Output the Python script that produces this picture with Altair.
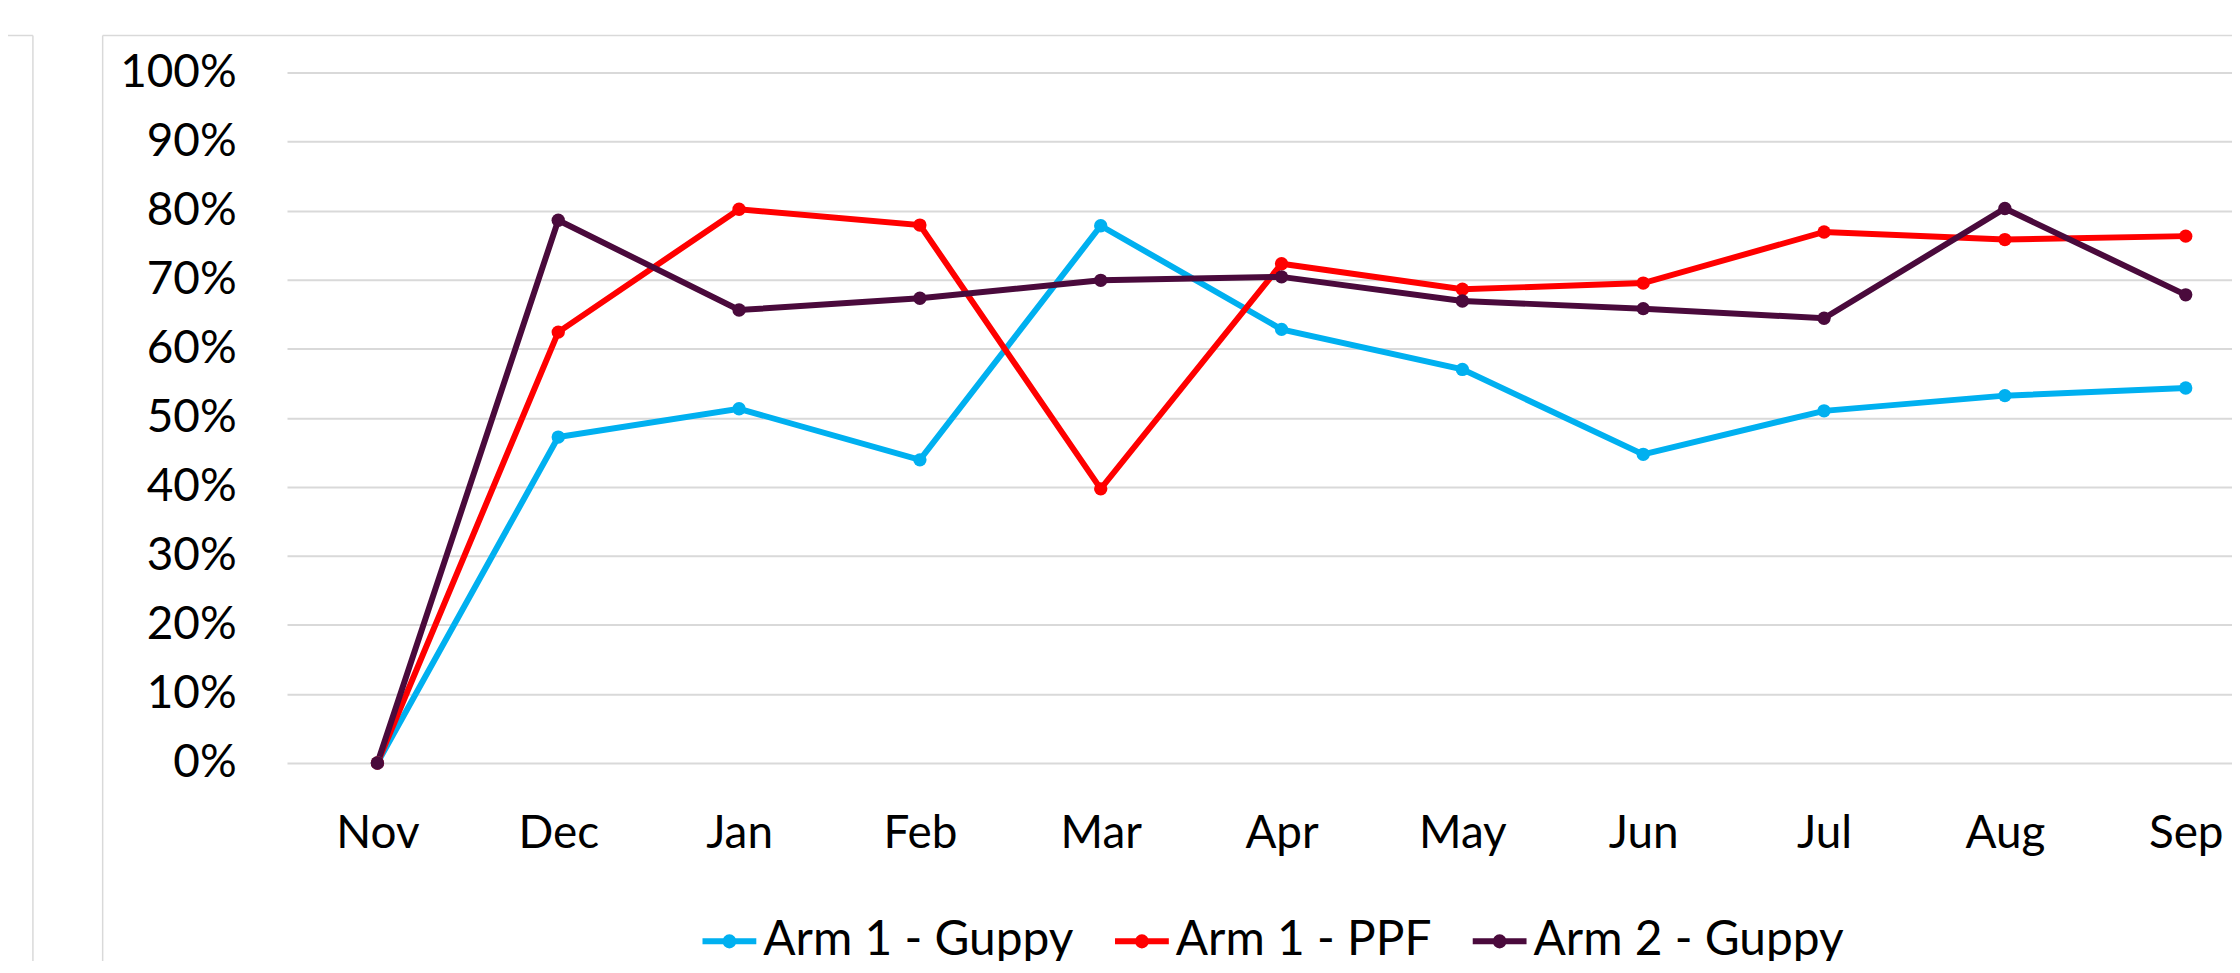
import altair as alt
import pandas as pd

months = ["Nov", "Dec", "Jan", "Feb", "Mar", "Apr", "May", "Jun", "Jul", "Aug", "Sep"]
series_names = ["Arm 1 - Guppy", "Arm 1 - PPF", "Arm 2 - Guppy"]
series_colors = ["#00B0F0", "#FF0000", "#4A0A3C"]

arm1_guppy = [0.0, 0.472, 0.513, 0.439, 0.778, 0.628, 0.570, 0.447, 0.510, 0.532, 0.543]
arm1_ppf = [0.0, 0.624, 0.802, 0.779, 0.397, 0.723, 0.686, 0.695, 0.769, 0.758, 0.763]
arm2_guppy = [0.0, 0.786, 0.656, 0.673, 0.699, 0.704, 0.669, 0.658, 0.644, 0.803, 0.678]

y_ticks = [i / 10 for i in range(11)]

rows = []
for name, vals in zip(series_names, [arm1_guppy, arm1_ppf, arm2_guppy]):
    for i, (m, v) in enumerate(zip(months, vals)):
        rows.append({"series": name, "month": m, "idx": i, "value": v})
df = pd.DataFrame(rows)

W, H = 1952, 693
FONT = "Lato"
GRID = "#d9d9d9"

label_expr = "[" + ",".join("'" + m + "'" for m in months) + "][datum.value]"

x_enc = alt.X(
    "idx:Q",
    scale=alt.Scale(domain=[-0.5, 10.256], nice=False, zero=False),
    axis=alt.Axis(
        values=list(range(len(months))),
        labelExpr=label_expr,
        grid=False, domain=False, ticks=False, tickSize=0,
        labelPadding=49, labelFontSize=46, labelFont=FONT, labelColor="black",
        labelBaseline="top", labelFlush=False, title=None,
    ),
)
y_enc = alt.Y(
    "value:Q",
    scale=alt.Scale(domain=[0, 1], nice=False),
    axis=alt.Axis(
        values=y_ticks, format=".0%",
        grid=True, gridColor=GRID, gridWidth=2,
        domain=False, ticks=False, tickSize=0,
        labelPadding=51, labelFontSize=46, labelFont=FONT, labelColor="black",
        labelFlush=False, title=None,
    ),
)

sym = "M-1,0L1,0M-0.15,0A0.15,0.15,0,1,0,0.15,0A0.15,0.15,0,1,0,-0.15,0"

lines = alt.Chart(df).mark_line(
    strokeWidth=6,
    point=alt.OverlayMarkDef(filled=True, size=180, opacity=1),
).encode(
    x=x_enc,
    y=y_enc,
    color=alt.Color(
        "series:N",
        scale=alt.Scale(domain=series_names, range=series_colors),
        legend=alt.Legend(
            orient="none", legendX=414, legendY=842, direction="horizontal",
            title=None, symbolType=sym, symbolSize=2916, symbolStrokeWidth=6,
            labelFontSize=48, labelFont=FONT, labelColor="black", labelLimit=0,
            labelOffset=4, columnPadding=29, padding=0,
        ),
    ),
    order="idx:Q",
)

frame_df = pd.DataFrame({"k": [0]})
base = alt.Chart(frame_df)
frame = [
    base.mark_rule(color="#d9d9d9", strokeWidth=1.5).encode(
        x=alt.value(-185), y=alt.value(-37), y2=alt.value(H + 300)),
    base.mark_rule(color="#d9d9d9", strokeWidth=1.5).encode(
        x=alt.value(-185), x2=alt.value(W), y=alt.value(-37)),
    base.mark_rule(color="#d9d9d9", strokeWidth=1.5).encode(
        x=alt.value(-255), y=alt.value(-37), y2=alt.value(H + 300)),
    base.mark_rule(color="#d9d9d9", strokeWidth=1.5).encode(
        x=alt.value(-300), x2=alt.value(-255), y=alt.value(-37)),
]

chart = alt.layer(*frame, lines).properties(
    width=W,
    height=H,
    autosize=alt.AutoSizeParams(type="none"),
    padding={"left": 280, "top": 63, "right": 0, "bottom": 197},
    background="white",
).configure_view(stroke=None)

chart.save("out.html", embed_options={"renderer": "svg", "actions": False})
